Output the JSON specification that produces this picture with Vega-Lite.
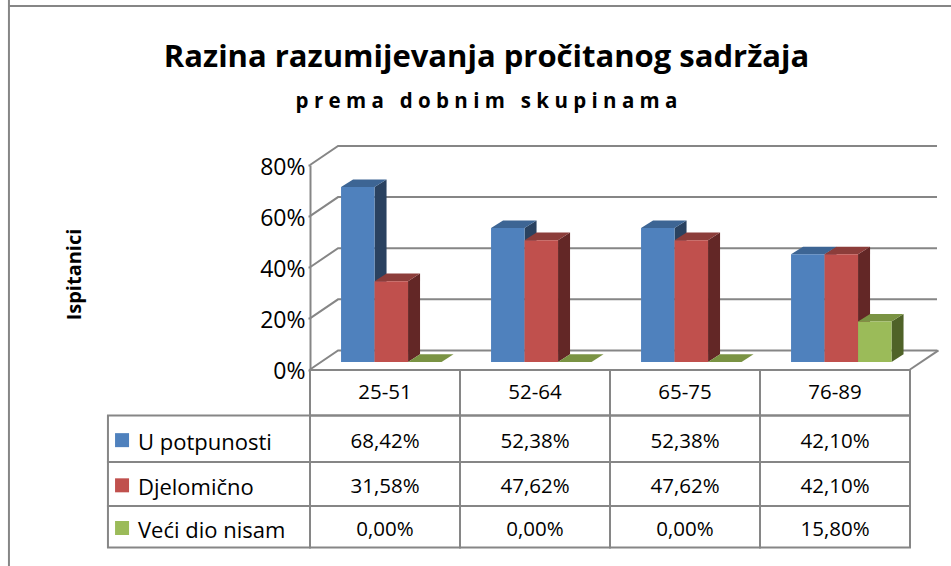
{
"$schema":"https://vega.github.io/schema/vega-lite/v6.json",
"width":951,"height":566,"padding":0,"autosize":"none","background":"white",
"config":{"view":{"stroke":null},"font":"Open Sans"},
"title":{"text":"Razina razumijevanja pročitanog sadržaja","subtitle":"p r e m a\u00a0\u00a0\u00a0d o b n i m\u00a0\u00a0\u00a0s k u p i n a m a","anchor":"middle","frame":"group","orient":"top","offset":-114,"dx":11,"font":"Open Sans","fontSize":31,"fontWeight":"bold","color":"#000000","subtitleFont":"Open Sans","subtitleFontSize":20.5,"subtitleFontWeight":"bold","subtitleColor":"#000000","subtitlePadding":18},
"datasets":{
"rows":[
{"cat":"25-51","c":0,"series":"U potpunosti","s":0,"v":68.42},
{"cat":"25-51","c":0,"series":"Djelomično","s":1,"v":31.58},
{"cat":"25-51","c":0,"series":"Veći dio nisam","s":2,"v":0},
{"cat":"52-64","c":1,"series":"U potpunosti","s":0,"v":52.38},
{"cat":"52-64","c":1,"series":"Djelomično","s":1,"v":47.62},
{"cat":"52-64","c":1,"series":"Veći dio nisam","s":2,"v":0},
{"cat":"65-75","c":2,"series":"U potpunosti","s":0,"v":52.38},
{"cat":"65-75","c":2,"series":"Djelomično","s":1,"v":47.62},
{"cat":"65-75","c":2,"series":"Veći dio nisam","s":2,"v":0},
{"cat":"76-89","c":3,"series":"U potpunosti","s":0,"v":42.10},
{"cat":"76-89","c":3,"series":"Djelomično","s":1,"v":42.10},
{"cat":"76-89","c":3,"series":"Veći dio nisam","s":2,"v":15.80}
],
"ticks":[{"t":0},{"t":20},{"t":40},{"t":60},{"t":80}]
},
"resolve":{"scale":{"y":"independent"}},
"layer":[
{"data":{"name":"ticks"},
 "mark":{"type":"tick","opacity":0},
 "encoding":{"y":{"field":"t","type":"quantitative","scale":{"domain":[0,80],"range":[369.5,165]},
  "axis":{"orient":"left","values":[0,20,40,60,80],"labelExpr":"datum.value+'%'","offset":-310,"grid":false,"domainColor":"#868686","domainWidth":2,"tickColor":"#868686","tickWidth":2,"tickSize":2,"labelFontSize":23,"labelFont":"Open Sans","labelColor":"#000000","labelPadding":3,"labelOffset":2,"title":"Ispitanici","titleFont":"Open Sans","titleFontSize":20,"titleFontWeight":"bold","titleColor":"#000000","titleAngle":-90,"titleX":-236,"titleY":274,"titleAlign":"center","titleBaseline":"middle"}}}},
{
"resolve":{"scale":{"color":"independent"}},
"layer":[
{"data":{"values":[{"edge":"left"}]},"mark":{"type":"rule","stroke":"#868686","strokeWidth":2},
 "encoding":{"x":{"datum":-2.007,"type":"quantitative","scale":{"domain":[0,4],"range":[310,910]},"axis":null}}},
{"data":{"values":[{"edge":"top"}]},"mark":{"type":"rule","stroke":"#868686","strokeWidth":2},
 "encoding":{"x":{"datum":-2.007,"type":"quantitative","scale":{"domain":[0,4],"range":[310,910]},"axis":null},"x2":{"datum":4.34},"y":{"datum":142.2,"type":"quantitative","scale":{"domain":[0,80],"range":[369.5,165]},"axis":null}}},
{"data":{"name":"ticks"},
 "transform":[{"calculate":"[0,0.187,4.18]","as":"xs"},{"calculate":"[datum.t,datum.t+7.45,datum.t+7.45]","as":"ys"},{"flatten":["xs","ys"]}],
 "mark":{"type":"line","stroke":"#868686","strokeWidth":2},
 "encoding":{"x":{"field":"xs","type":"quantitative","scale":{"domain":[0,4],"range":[310,910]},"axis":null},
  "y":{"field":"ys","type":"quantitative","scale":{"domain":[0,80],"range":[369.5,165]},"axis":null},
  "detail":{"field":"t"},"order":{"field":"xs"}}},
{"data":{"name":"ticks"},
 "transform":[{"filter":"datum.t==0"},{"calculate":"[4,4.19]","as":"xs"},{"calculate":"[0,7.45]","as":"ys"},{"flatten":["xs","ys"]}],
 "mark":{"type":"line","stroke":"#868686","strokeWidth":2},
 "encoding":{"x":{"field":"xs","type":"quantitative","scale":{"domain":[0,4],"range":[310,910]},"axis":null},
  "y":{"field":"ys","type":"quantitative","scale":{"domain":[0,80],"range":[369.5,165]},"axis":null},"order":{"field":"xs"}}},
{"data":{"name":"rows"},
 "transform":[{"calculate":"datum.c+0.207+datum.s*0.2233+0.2233","as":"x1"},{"calculate":"datum.v+2.94","as":"top"},
  {"calculate":"[datum.x1,datum.x1+0.08]","as":"xs"},{"calculate":"[2.94,5.94]","as":"ys"},{"calculate":"[datum.top,datum.top+3]","as":"ys2"},{"flatten":["xs","ys","ys2"]}],
 "mark":{"type":"area","interpolate":"linear"},
 "encoding":{"x":{"field":"xs","type":"quantitative","scale":{"domain":[0,4],"range":[310,910]},"axis":null},
  "y":{"field":"ys","type":"quantitative","scale":{"domain":[0,80],"range":[369.5,165]},"axis":null},"y2":{"field":"ys2"},
  "detail":{"field":"c"},
  "color":{"field":"series","type":"nominal","scale":{"domain":["U potpunosti","Djelomično","Veći dio nisam"],"range":["#2A4260","#632726","#4F6228"]},"legend":null}}},
{"data":{"name":"rows"},
 "transform":[{"calculate":"datum.c+0.207+datum.s*0.2233","as":"x0"},{"calculate":"datum.v+2.94","as":"top"},
  {"calculate":"[datum.x0,datum.x0+0.08,datum.x0+0.2233,datum.x0+0.3033]","as":"xs"},{"calculate":"[datum.top,datum.top,datum.top,datum.top+3]","as":"ys"},{"calculate":"[datum.top,datum.top+3,datum.top+3,datum.top+3]","as":"ys2"},{"flatten":["xs","ys","ys2"]}],
 "mark":{"type":"area","interpolate":"linear"},
 "encoding":{"x":{"field":"xs","type":"quantitative","scale":{"domain":[0,4],"range":[310,910]},"axis":null},
  "y":{"field":"ys","type":"quantitative","scale":{"domain":[0,80],"range":[369.5,165]},"axis":null},"y2":{"field":"ys2"},
  "detail":{"field":"c"},
  "color":{"field":"series","type":"nominal","scale":{"domain":["U potpunosti","Djelomično","Veći dio nisam"],"range":["#3D6594","#8C3D3A","#7A9343"]},"legend":null}}},
{"data":{"name":"rows"},
 "transform":[{"filter":"datum.v>0"},{"calculate":"datum.c+0.207+datum.s*0.2233","as":"x0"},{"calculate":"datum.x0+0.2233","as":"x1"},{"calculate":"datum.v+2.94","as":"top"},{"calculate":"2.94","as":"base"}],
 "mark":{"type":"rect"},
 "encoding":{"x":{"field":"x0","type":"quantitative","scale":{"domain":[0,4],"range":[310,910]},"axis":null},"x2":{"field":"x1"},
  "y":{"field":"top","type":"quantitative","scale":{"domain":[0,80],"range":[369.5,165]},"axis":null},"y2":{"field":"base"},
  "color":{"field":"series","type":"nominal","scale":{"domain":["U potpunosti","Djelomično","Veći dio nisam"],"range":["#4F81BD","#C0504D","#9BBB59"]},"legend":null}}}
]},
{
"resolve":{"scale":{"color":"independent"}},
"layer":[
{"data":{"name":"rows"},
 "transform":[{"calculate":"datum.c+1","as":"xe"},{"calculate":"datum.s+1","as":"r"},{"calculate":"datum.s+2","as":"r2"}],
 "mark":{"type":"rect","filled":false,"stroke":"#868686","strokeWidth":2},
 "encoding":{"x":{"field":"c","type":"quantitative","scale":{"domain":[0,4],"range":[310,910]},"axis":null},"x2":{"field":"xe"},
  "y":{"field":"r","type":"quantitative","scale":{"domain":[0,1,2,3,4],"range":[370,415.5,462,506,547.5]},"axis":null},"y2":{"field":"r2"}}},
{"data":{"name":"rows"},
 "transform":[{"filter":"datum.s==0"},{"calculate":"datum.c+1","as":"xe"},{"calculate":"0","as":"r"},{"calculate":"1","as":"r2"}],
 "mark":{"type":"rect","filled":false,"stroke":"#868686","strokeWidth":2},
 "encoding":{"x":{"field":"c","type":"quantitative","scale":{"domain":[0,4],"range":[310,910]},"axis":null},"x2":{"field":"xe"},
  "y":{"field":"r","type":"quantitative","scale":{"domain":[0,1,2,3,4],"range":[370,415.5,462,506,547.5]},"axis":null},"y2":{"field":"r2"}}},
{"data":{"name":"rows"},
 "transform":[{"filter":"datum.c==0"},{"calculate":"-1.347","as":"xa"},{"calculate":"0","as":"xb"},{"calculate":"datum.s+1","as":"r"},{"calculate":"datum.s+2","as":"r2"}],
 "mark":{"type":"rect","filled":false,"stroke":"#868686","strokeWidth":2},
 "encoding":{"x":{"field":"xa","type":"quantitative","scale":{"domain":[0,4],"range":[310,910]},"axis":null},"x2":{"field":"xb"},
  "y":{"field":"r","type":"quantitative","scale":{"domain":[0,1,2,3,4],"range":[370,415.5,462,506,547.5]},"axis":null},"y2":{"field":"r2"}}},
{"data":{"name":"rows"},
 "transform":[{"filter":"datum.c==0"},{"calculate":"-1.253","as":"xk"},{"calculate":"datum.s+1.53","as":"r"}],
 "mark":{"type":"point","shape":"square","filled":true,"size":196,"opacity":1},
 "encoding":{"x":{"field":"xk","type":"quantitative","scale":{"domain":[0,4],"range":[310,910]},"axis":null},
  "y":{"field":"r","type":"quantitative","scale":{"domain":[0,1,2,3,4],"range":[370,415.5,462,506,547.5]},"axis":null},
  "color":{"field":"series","type":"nominal","scale":{"domain":["U potpunosti","Djelomično","Veći dio nisam"],"range":["#4F81BD","#C0504D","#9BBB59"]},"legend":null}}},
{"data":{"name":"rows"},
 "transform":[{"filter":"datum.c==0"},{"calculate":"-1.147","as":"xt"},{"calculate":"datum.s+1.5","as":"r"}],
 "mark":{"type":"text","align":"left","baseline":"middle","fontSize":22,"font":"Open Sans","color":"#000000","dy":4},
 "encoding":{"x":{"field":"xt","type":"quantitative","scale":{"domain":[0,4],"range":[310,910]},"axis":null},
  "y":{"field":"r","type":"quantitative","scale":{"domain":[0,1,2,3,4],"range":[370,415.5,462,506,547.5]},"axis":null},
  "text":{"field":"series"}}},
{"data":{"name":"rows"},
 "transform":[{"filter":"datum.s==0"},{"calculate":"datum.c+0.5","as":"xt"},{"calculate":"0.5","as":"r"}],
 "mark":{"type":"text","align":"center","baseline":"middle","fontSize":20.5,"font":"Open Sans","color":"#000000"},
 "encoding":{"x":{"field":"xt","type":"quantitative","scale":{"domain":[0,4],"range":[310,910]},"axis":null},
  "y":{"field":"r","type":"quantitative","scale":{"domain":[0,1,2,3,4],"range":[370,415.5,462,506,547.5]},"axis":null},
  "text":{"field":"cat"}}},
{"data":{"name":"rows"},
 "transform":[{"calculate":"datum.c+0.5","as":"xt"},{"calculate":"datum.s+1.5","as":"r"},{"calculate":"replace(format(datum.v,'.2f'),'.',',')+'%'","as":"label"}],
 "mark":{"type":"text","align":"center","baseline":"middle","fontSize":20.5,"font":"Open Sans","color":"#000000","dy":3},
 "encoding":{"x":{"field":"xt","type":"quantitative","scale":{"domain":[0,4],"range":[310,910]},"axis":null},
  "y":{"field":"r","type":"quantitative","scale":{"domain":[0,1,2,3,4],"range":[370,415.5,462,506,547.5]},"axis":null},
  "text":{"field":"label"}}}
]}
]
}
